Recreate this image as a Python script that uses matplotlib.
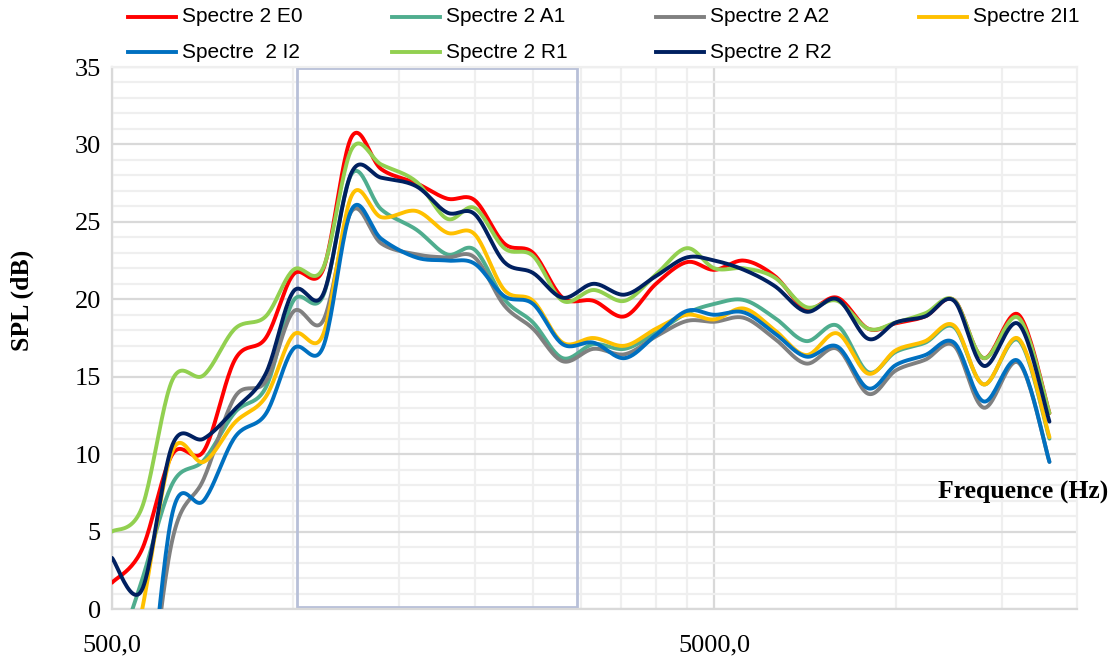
import numpy as np
import matplotlib
matplotlib.use("Agg")
import matplotlib.pyplot as plt
from matplotlib.ticker import FixedLocator, NullFormatter
from matplotlib.patches import Rectangle
from matplotlib.lines import Line2D

# 1/6 octave band centres (Hz)
freqs = [500, 560, 630, 710, 800, 900, 1000, 1120, 1250, 1400, 1600, 1800,
         2000, 2240, 2500, 2800, 3150, 3550, 4000, 4500, 5000, 5600, 6300,
         7100, 8000, 9000, 10000, 11200, 12500, 14000, 16000, 18000]

spl_e0 = [1.7, 3.8, 10.0, 10.2, 16.1, 17.5, 21.6, 21.9, 30.5, 28.4, 27.5, 26.5,
          26.4, 23.6, 23.0, 20.1, 19.9, 18.9, 21.0, 22.4, 21.9, 22.5, 21.5,
          19.4, 20.1, 18.1, 18.45, 18.9, 19.95, 16.2, 19.0, 12.65]
spl_a1 = [-4.0, 1.8, 8.1, 9.6, 12.7, 14.3, 19.9, 20.2, 28.1, 25.8, 24.5, 22.9,
          23.2, 20.0, 18.5, 16.2, 17.1, 16.8, 17.85, 19.1, 19.7, 19.95, 18.8,
          17.3, 18.3, 15.3, 16.6, 17.2, 18.2, 14.5, 17.35, 11.0]
spl_a2 = [-14.0, -9.0, 4.5, 8.4, 13.7, 14.7, 19.2, 18.6, 25.7, 23.6, 22.9, 22.7,
          22.7, 19.6, 18.1, 16.0, 16.8, 16.45, 17.6, 18.6, 18.55, 18.8, 17.45,
          15.85, 16.8, 13.9, 15.4, 16.1, 17.0, 13.0, 15.9, 9.5]
spl_i1 = [-9.0, -0.2, 10.2, 9.5, 12.05, 13.7, 17.7, 17.7, 26.7, 25.3, 25.7, 24.3,
          24.2, 20.6, 19.9, 17.2, 17.5, 17.0, 18.1, 19.0, 18.7, 19.4, 18.0,
          16.4, 17.8, 15.2, 16.7, 17.3, 18.3, 14.5, 17.45, 11.1]
spl_i2 = [-16.0, -10.0, 6.2, 7.0, 11.1, 12.6, 16.8, 16.9, 25.8, 23.9, 22.7, 22.5,
          22.3, 20.2, 19.7, 17.1, 17.2, 16.2, 17.7, 19.25, 19.0, 19.15, 17.8,
          16.3, 16.95, 14.25, 15.75, 16.4, 17.2, 13.4, 16.0, 9.5]
spl_r1 = [5.0, 6.5, 14.8, 15.1, 18.1, 18.9, 21.9, 22.0, 29.7, 28.7, 27.6, 25.2,
          25.9, 23.3, 22.8, 19.9, 20.6, 19.9, 21.6, 23.3, 22.0, 22.0, 21.4,
          19.5, 19.9, 18.1, 18.5, 19.1, 19.95, 16.2, 18.8, 12.65]
spl_r2 = [3.3, 1.2, 10.6, 11.0, 12.9, 15.2, 20.5, 20.3, 28.2, 27.85, 27.3, 25.6,
          25.5, 22.4, 21.7, 20.1, 21.0, 20.3, 21.5, 22.7, 22.5, 21.9, 20.85,
          19.2, 20.0, 17.45, 18.5, 18.9, 19.9, 15.7, 18.4, 12.1]

labels = ["Spectre 2 E0", "Spectre 2 A1", "Spectre 2 A2", "Spectre 2I1",
          "Spectre  2 I2", "Spectre 2 R1", "Spectre 2 R2"]
colors = ["#ff0000", "#4fad8e", "#808080", "#ffc000",
          "#0070c0", "#92d050", "#002060"]
series = [spl_e0, spl_a1, spl_a2, spl_i1, spl_i2, spl_r1, spl_r2]

# highlighted zone drawn on the chart (Hz)
box_lo, box_hi = 1015, 2955


def smooth(xs, ys, n=24):
    # excel-like smoothed line (catmull-rom as bezier) in log-x space
    p = np.column_stack([np.log10(xs), ys])
    ext = np.vstack([p[0], p, p[-1]])
    t = np.linspace(0, 1, n)[:, None]
    out = []
    for i in range(len(p) - 1):
        p0, p3 = ext[i + 1], ext[i + 2]
        c1 = p0 + (ext[i + 2] - ext[i]) / 6
        c2 = p3 - (ext[i + 3] - ext[i + 1]) / 6
        seg = (1 - t) ** 3 * p0 + 3 * (1 - t) ** 2 * t * c1 + 3 * (1 - t) * t ** 2 * c2 + t ** 3 * p3
        out.append(seg if i == 0 else seg[1:])
    s = np.vstack(out)
    return 10 ** s[:, 0], s[:, 1]


W, H = 1115, 659
fig = plt.figure(figsize=(W / 100, H / 100), dpi=100)
ax = fig.add_axes([112 / W, 1 - 609 / H, (1077 - 112) / W, (609 - 67) / H])

ax.set_xscale("log")
ax.set_xlim(500, 20000)
ax.set_ylim(0, 35)

ax.xaxis.set_major_locator(FixedLocator([500, 5000]))
ax.xaxis.set_minor_locator(FixedLocator([1000, 1500, 2000, 2500, 3000, 3500, 4000, 4500, 10000, 15000]))
ax.xaxis.set_minor_formatter(NullFormatter())
ax.set_xticklabels(["500,0", "5000,0"])
ax.yaxis.set_major_locator(FixedLocator(range(0, 36, 5)))
ax.yaxis.set_minor_locator(FixedLocator(range(0, 36, 1)))

ax.grid(which="major", color="#d9d9d9", lw=1.6)
ax.grid(which="minor", color="#efefef", lw=1.6)
ax.set_axisbelow(True)
ax.tick_params(which="both", length=0)
ax.tick_params(axis="y", pad=8)
ax.tick_params(axis="x", pad=18)
for lab in ax.get_xticklabels() + ax.get_yticklabels():
    lab.set_family("Liberation Serif")
    lab.set_fontsize(19)

for side in ["left", "bottom"]:
    ax.spines[side].set_color("#d9d9d9")
    ax.spines[side].set_linewidth(1.6)
for side in ["top", "right"]:
    ax.spines[side].set_color("#efefef")
    ax.spines[side].set_linewidth(1.6)

ax.add_patch(Rectangle((box_lo, 0.15), box_hi - box_lo, 34.8, fill=False,
                       edgecolor="#b8c0d8", lw=2, zorder=1.5))

for ys, c in zip(series, colors):
    sx, sy = smooth(freqs, ys)
    ax.plot(sx, sy, color=c, lw=2.8, solid_capstyle="round", zorder=3)

fig.text(22 / W, 1 - 300 / H, "SPL (dB)", rotation=90, ha="center", va="center",
         family="Liberation Serif", fontsize=18.5, weight="bold")
fig.text(1108 / W, 1 - 492 / H, "Frequence (Hz)", ha="right", va="center",
         family="Liberation Serif", fontsize=18.5, weight="bold")

# legend, 2 rows x 4 columns
col_x = [128, 392, 656, 919]
row_y = [17, 52]
for k, (lab, c) in enumerate(zip(labels, colors)):
    x0 = col_x[k % 4]
    y0 = 1 - row_y[k // 4] / H
    fig.add_artist(Line2D([x0 / W, (x0 + 48) / W], [y0, y0], color=c, lw=2.8))
    fig.text((x0 + 54) / W, y0, lab, ha="left", va="center",
             family=["Liberation Sans", "DejaVu Sans"], fontsize=15)

fig.savefig("out.png", dpi=100)
